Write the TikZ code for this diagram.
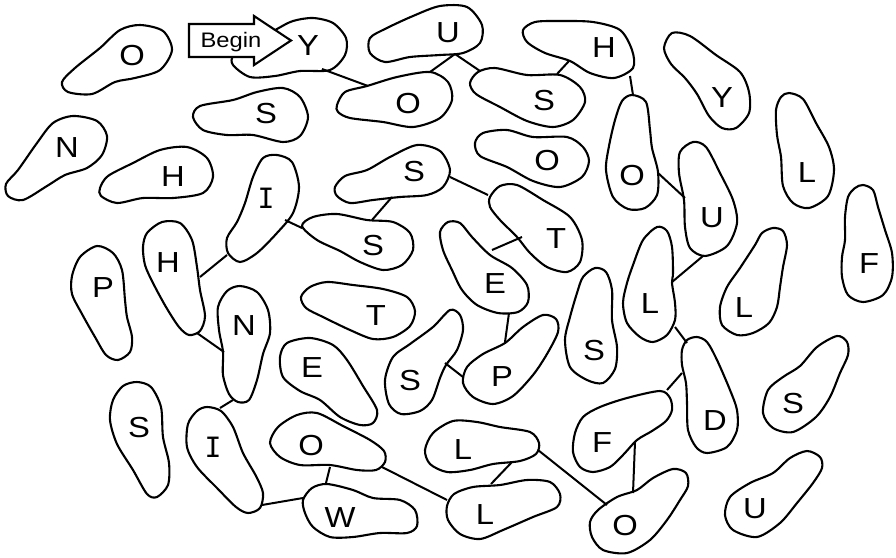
\documentclass[tikz,border=0pt]{standalone}
\usepackage{fontspec}
\usepackage{graphicx}
\setmainfont{Liberation Sans}
\newfontfamily\slabfont{DejaVu Sans Mono}
\newcommand\wideL[1]{\scalebox{1.13}[1]{#1}}
\begin{document}
\begin{tikzpicture}[x=1pt,y=-1pt,
  blob/.style={draw=black, line width=2.1pt, line join=round},
  link/.style={draw=black, line width=2pt},
  letter/.style={font=\fontsize{29}{31}\selectfont, anchor=base, inner sep=0pt},
  slabletter/.style={font=\slabfont\fontsize{28}{30}\selectfont, anchor=base, inner sep=0pt},
  arrowbox/.style={draw=black, fill=white, line width=2.1pt, line join=miter},
  begintext/.style={font=\fontsize{21}{23}\selectfont, anchor=base, inner sep=0pt}]
\useasboundingbox (0,0) rectangle (896,557);
\fill[white] (0,0) rectangle (896,557);

% ---- blobs ----
\draw[blob] plot[smooth cycle] coordinates {(140,25) (163,31) (172,50) (160,70) (135,78) (115,82) (92,94) (68,92) (62,82) (75,68) (100,48) (120,30)};
\draw[blob] plot[smooth cycle] coordinates {(233,65) (250,77) (275,76) (300,71) (330,70) (345,55) (346,38) (333,23) (313,18) (293,21) (277,29) (255,42) (234,55)};
\draw[blob] plot[smooth cycle] coordinates {(370,38) (387,28) (413,16) (440,6) (467,7) (482,25) (480,43) (463,53) (440,55) (410,57) (385,62) (370,53)};
\draw[blob] plot[smooth cycle] coordinates {(337,105) (345,92) (367,86) (397,77) (430,72) (448,82) (452,100) (440,118) (413,127) (383,122) (350,118) (338,112)};
\draw[blob] plot[smooth cycle] coordinates {(470,83) (478,72) (495,68) (527,75) (560,75) (580,87) (585,102) (573,120) (553,127) (527,121) (500,107) (476,94)};
\draw[blob] plot[smooth cycle] coordinates {(523,30) (535,22) (560,21) (593,22) (620,30) (632,50) (633,68) (614,78) (590,73) (570,61) (545,53) (527,42)};
\draw[blob] plot[smooth cycle] coordinates {(664,48) (672,33) (690,36) (716,55) (740,72) (749,92) (749,113) (736,128) (722,128) (709,116) (697,94) (685,78) (671,64)};
\draw[blob] plot[smooth cycle] coordinates {(632,95) (646,102) (650,130) (652,148) (658,172) (657,195) (645,208) (628,209) (613,197) (606,170) (609,146) (615,120) (622,101)};
\draw[blob] plot[smooth cycle] coordinates {(693,142) (706,147) (720,173) (733,200) (737,223) (727,246) (705,256) (690,248) (685,227) (684,200) (679,173) (680,152)};
\draw[blob] plot[smooth cycle] coordinates {(789,93) (803,99) (816,123) (829,147) (834,170) (828,196) (809,208) (793,203) (783,186) (781,157) (777,135) (776,110) (781,97)};
\draw[blob] plot[smooth cycle] coordinates {(863,185) (873,190) (878,207) (885,230) (892,253) (892,277) (883,295) (863,302) (848,295) (842,277) (842,257) (845,240) (845,217) (848,197) (855,188)};
\draw[blob] plot[smooth cycle] coordinates {(73,116) (97,121) (107,136) (102,155) (87,168) (65,175) (47,186) (23,200) (8,196) (6,184) (18,170) (37,143) (53,123)};
\draw[blob] plot[smooth cycle] coordinates {(193,117) (200,106) (233,100) (257,92) (283,88) (300,97) (308,117) (300,136) (283,142) (253,135) (227,135) (203,130)};
\draw[blob] plot[smooth cycle] coordinates {(100,188) (108,176) (133,163) (160,150) (187,147) (207,158) (213,177) (203,193) (173,198) (143,198) (117,203) (101,196)};
\draw[blob] plot[smooth cycle] coordinates {(475,143) (483,133) (507,130) (533,137) (567,137) (583,147) (589,161) (582,177) (560,187) (533,181) (507,167) (480,156)};
\draw[blob] plot[smooth cycle] coordinates {(335,187) (345,176) (367,170) (390,157) (417,145) (440,151) (450,170) (443,187) (427,195) (400,197) (373,200) (350,203) (337,196)};
\draw[blob] plot[smooth cycle] coordinates {(277,155) (292,162) (299,187) (293,213) (277,233) (257,253) (240,262) (228,253) (227,238) (237,222) (245,203) (253,177) (263,158)};
\draw[blob] plot[smooth cycle] coordinates {(302,226) (313,217) (337,214) (367,220) (393,222) (410,233) (413,250) (402,265) (383,270) (360,262) (340,251) (317,240)};
\draw[blob] plot[smooth cycle] coordinates {(490,197) (500,186) (517,185) (543,200) (570,217) (582,240) (580,262) (567,272) (547,267) (530,253) (517,237) (500,220) (490,207)};
\draw[blob] plot[smooth cycle] coordinates {(97,246) (113,253) (122,270) (125,300) (127,317) (132,337) (130,352) (118,360) (106,355) (95,337) (82,314) (72,294) (72,276) (80,257)};
\draw[blob] plot[smooth cycle] coordinates {(147,233) (162,222) (180,223) (192,240) (197,267) (200,290) (205,316) (200,331) (189,335) (179,327) (166,307) (153,283) (145,265) (143,247)};
\draw[blob] plot[smooth cycle] coordinates {(440,232) (448,222) (460,223) (472,237) (490,255) (512,268) (527,285) (528,302) (518,312) (498,313) (477,305) (462,290) (452,270) (443,250)};
\draw[blob] plot[smooth cycle] coordinates {(657,227) (667,231) (672,247) (673,273) (672,283) (675,303) (675,320) (667,335) (653,342) (640,337) (627,323) (623,303) (627,283) (633,265) (643,240)};
\draw[blob] plot[smooth cycle] coordinates {(773,228) (783,231) (787,245) (783,267) (780,287) (777,307) (769,323) (753,333) (737,335) (722,325) (720,307) (727,287) (740,268) (755,245) (762,233)};
\draw[blob] plot[smooth cycle] coordinates {(301,297) (310,287) (327,282) (353,285) (383,289) (407,297) (415,311) (410,326) (393,337) (373,339) (350,330) (323,317) (306,308)};
\draw[blob] plot[smooth cycle] coordinates {(240,286) (257,292) (268,310) (270,333) (263,354) (257,380) (249,400) (238,402) (229,394) (223,375) (223,352) (219,330) (218,307) (227,291)};
\draw[blob] plot[smooth cycle] coordinates {(595,268) (606,272) (612,290) (612,320) (617,347) (615,369) (603,383) (587,380) (570,367) (565,340) (570,317) (577,293) (583,277)};
\draw[blob] plot[smooth cycle] coordinates {(280,357) (287,343) (310,338) (333,345) (347,360) (363,386) (377,410) (373,423) (360,425) (340,417) (320,400) (300,391) (283,377)};
\draw[blob] plot[smooth cycle] coordinates {(450,310) (460,315) (463,330) (457,350) (446,365) (440,378) (432,400) (420,411) (401,414) (389,404) (385,380) (393,357) (410,344) (433,327)};
\draw[blob] plot[smooth cycle] coordinates {(543,315) (556,319) (558,332) (547,354) (533,375) (513,396) (493,404) (473,397) (463,383) (467,367) (483,354) (505,343) (523,327)};
\draw[blob] plot[smooth cycle] coordinates {(697,337) (707,342) (717,360) (730,390) (737,410) (737,430) (727,447) (707,453) (696,447) (688,430) (687,403) (686,383) (682,365) (682,350) (687,340)};
\draw[blob] plot[smooth cycle] coordinates {(837,336) (847,342) (848,355) (840,373) (830,397) (816,417) (793,432) (773,428) (763,413) (768,390) (783,377) (800,366) (817,347)};
\draw[blob] plot[smooth cycle] coordinates {(137,382) (151,387) (161,407) (163,437) (169,463) (168,485) (157,497) (147,494) (133,470) (117,444) (110,420) (113,400) (123,386)};
\draw[blob] plot[smooth cycle] coordinates {(207,407) (221,411) (233,427) (243,453) (256,476) (263,493) (260,508) (248,513) (236,507) (217,488) (197,467) (187,447) (188,424) (197,411)};
\draw[blob] plot[smooth cycle] coordinates {(270,443) (278,427) (297,415) (317,413) (343,426) (370,440) (384,451) (385,462) (376,470) (357,470) (330,465) (300,465) (280,457)};
\draw[blob] plot[smooth cycle] coordinates {(425,450) (433,433) (453,421) (477,422) (500,427) (530,432) (539,443) (536,454) (520,461) (493,464) (470,470) (447,472) (430,464)};
\draw[blob] plot[smooth cycle] coordinates {(660,391) (670,398) (672,410) (666,421) (652,431) (637,440) (623,455) (610,467) (593,472) (580,467) (573,452) (575,433) (583,417) (600,407) (627,398)};
\draw[blob] plot[smooth cycle] coordinates {(303,500) (312,488) (327,484) (353,490) (373,498) (400,500) (415,510) (417,526) (407,533) (380,533) (353,537) (330,537) (313,527) (305,513)};
\draw[blob] plot[smooth cycle] coordinates {(447,506) (454,494) (473,487) (500,485) (527,480) (550,482) (560,494) (557,507) (533,517) (503,530) (480,539) (460,534) (448,520)};
\draw[blob] plot[smooth cycle] coordinates {(673,469) (686,473) (688,486) (680,500) (667,520) (650,540) (627,553) (603,550) (592,537) (590,522) (598,510) (617,497) (637,490) (653,478)};
\draw[blob] plot[smooth cycle] coordinates {(807,451) (820,457) (822,468) (813,483) (797,503) (780,523) (757,537) (733,530) (725,515) (730,497) (750,483) (773,473) (790,458)};

% ---- connector end points ----
\coordinate (yA) at (322,69);   \coordinate (o2A) at (368,86);
\coordinate (uA) at (455,54);   \coordinate (o2B) at (430,72);
\coordinate (stA) at (480,71);
\coordinate (hA) at (569,61);   \coordinate (stB) at (557,74);
\coordinate (hB) at (630,76);   \coordinate (otA) at (633,95);
\coordinate (otB) at (658,173); \coordinate (urA) at (685,198);
\coordinate (urB) at (703,256); \coordinate (lmA) at (672,282);
\coordinate (lmB) at (675,327); \coordinate (dA) at (687,343);
\coordinate (dB) at (682,373);  \coordinate (flA) at (667,390);
\coordinate (flB) at (635,442); \coordinate (obA) at (633,493);
\coordinate (llA) at (538,450); \coordinate (obB) at (607,505);
\coordinate (llB) at (512,462); \coordinate (l2A) at (491,484);
\coordinate (olA) at (382,467); \coordinate (l2B) at (447,500);
\coordinate (olB) at (330,467); \coordinate (wA) at (326,483);
\coordinate (ilA) at (262,505); \coordinate (wB) at (303,498);
\coordinate (nlA) at (233,400); \coordinate (ilB) at (220,408);
\coordinate (hlA) at (197,333); \coordinate (nlB) at (224,352);
\coordinate (iA) at (227,255);  \coordinate (hlB) at (200,277);
\coordinate (iB) at (285,220);  \coordinate (slA) at (302,228);
\coordinate (slB) at (372,220); \coordinate (smA) at (392,197);
\coordinate (smB) at (450,177); \coordinate (tA) at (488,195);
\coordinate (tB) at (522,237);  \coordinate (eA) at (492,250);
\coordinate (eB) at (509,313);  \coordinate (pA) at (505,342);
\coordinate (smrA) at (445,363); \coordinate (pB) at (463,377);

% ---- connectors ----
\draw[link] (yA) -- (o2A);
\draw[link] (uA) -- (o2B);
\draw[link] (uA) -- (stA);
\draw[link] (hA) -- (stB);
\draw[link] (hB) -- (otA);
\draw[link] (otB) -- (urA);
\draw[link] (urB) -- (lmA);
\draw[link] (lmB) -- (dA);
\draw[link] (dB) -- (flA);
\draw[link] (flB) -- (obA);
\draw[link] (llA) -- (obB);
\draw[link] (llB) -- (l2A);
\draw[link] (olA) -- (l2B);
\draw[link] (olB) -- (wA);
\draw[link] (ilA) -- (wB);
\draw[link] (nlA) -- (ilB);
\draw[link] (hlA) -- (nlB);
\draw[link] (iA) -- (hlB);
\draw[link] (iB) -- (slA);
\draw[link] (slB) -- (smA);
\draw[link] (smB) -- (tA);
\draw[link] (tB) -- (eA);
\draw[link] (eB) -- (pA);
\draw[link] (smrA) -- (pB);

% ---- Begin arrow ----
\draw[arrowbox] (189,24) -- (254,24) -- (254,16) -- (291,40.5) -- (254,65) -- (254,57) -- (189,57) -- cycle;
\node[begintext] (begin) at (231,47) {\wideL{Begin}};

% ---- letters ----
\node[letter] (lO1) at (132,65) {\wideL{O}};
\node[letter] (lY1) at (308,55) {\wideL{Y}};
\node[letter] (lU1) at (448,42) {\wideL{U}};
\node[letter] (lH1) at (604,57) {\wideL{H}};
\node[letter] (lY2) at (722,107) {\wideL{Y}};
\node[letter] (lO2) at (408,113) {\wideL{O}};
\node[letter] (lS1) at (544,110) {\wideL{S}};
\node[letter] (lS2) at (266,123) {\wideL{S}};
\node[letter] (lN1) at (67,157) {\wideL{N}};
\node[letter] (lH2) at (173,186) {\wideL{H}};
\node[letter] (lO3) at (547,170) {\wideL{O}};
\node[letter] (lO4) at (632,185) {\wideL{O}};
\node[letter] (lL1) at (807,182) {\wideL{L}};
\node[letter] (lS3) at (414,181) {\wideL{S}};
\node[slabletter] (lI1) at (266,208) {I};
\node[letter] (lS4) at (373,255) {\wideL{S}};
\node[letter] (lT1) at (556,248) {\wideL{T}};
\node[letter] (lU2) at (712,227) {\wideL{U}};
\node[letter] (lF1) at (869,273) {\wideL{F}};
\node[letter] (lP1) at (103,297) {\wideL{P}};
\node[letter] (lH3) at (168,272) {\wideL{H}};
\node[letter] (lE1) at (495,293) {\wideL{E}};
\node[letter] (lL2) at (650,313) {\wideL{L}};
\node[letter] (lL3) at (744,317) {\wideL{L}};
\node[letter] (lT2) at (376,325) {\wideL{T}};
\node[letter] (lN2) at (244,335) {\wideL{N}};
\node[letter] (lS5) at (594,360) {\wideL{S}};
\node[letter] (lE2) at (312,377) {\wideL{E}};
\node[letter] (lS6) at (410,390) {\wideL{S}};
\node[letter] (lP2) at (502,386) {\wideL{P}};
\node[letter] (lD1) at (715,430) {\wideL{D}};
\node[letter] (lS7) at (793,413) {\wideL{S}};
\node[letter] (lS8) at (139,437) {\wideL{S}};
\node[slabletter] (lI2) at (213,457) {I};
\node[letter] (lO5) at (311,455) {\wideL{O}};
\node[letter] (lL4) at (463,459) {\wideL{L}};
\node[letter] (lF2) at (602,452) {\wideL{F}};
\node[letter] (lW1) at (340,527) {\wideL{W}};
\node[letter] (lL5) at (485,524) {\wideL{L}};
\node[letter] (lO6) at (625,535) {\wideL{O}};
\node[letter] (lU3) at (755,518) {\wideL{U}};
\end{tikzpicture}
\end{document}
